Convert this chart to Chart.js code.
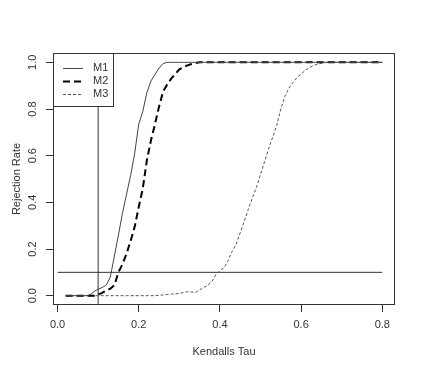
<!DOCTYPE html>
<html>
<head>
<meta charset="utf-8">
<script src="https://cdn.jsdelivr.net/npm/chart.js@4"></script>
<style>
  html, body { margin: 0; padding: 0; background: #fff; }
  #wrap { width: 423px; height: 372px; position: relative; }
</style>
</head>
<body>
<div id="wrap"><canvas id="chart"></canvas></div>
<script>
// Rejection rate vs Kendall's tau, three methods

const tau = [
  0.02, 0.03, 0.04, 0.05, 0.06, 0.07, 0.08, 0.09, 0.10, 0.11,
  0.12, 0.13, 0.14, 0.15, 0.16, 0.17, 0.18, 0.19, 0.20, 0.21,
  0.22, 0.23, 0.24, 0.25, 0.26, 0.27, 0.28, 0.29, 0.30, 0.31,
  0.32, 0.33, 0.34, 0.35, 0.36, 0.37, 0.38, 0.39, 0.40, 0.41,
  0.42, 0.43, 0.44, 0.45, 0.46, 0.47, 0.48, 0.49, 0.50, 0.51,
  0.52, 0.53, 0.54, 0.55, 0.56, 0.57, 0.58, 0.59, 0.60, 0.61,
  0.62, 0.63, 0.64, 0.65, 0.66, 0.67, 0.68, 0.69, 0.70, 0.71,
  0.72, 0.73, 0.74, 0.75, 0.76, 0.77, 0.78, 0.79, 0.80
];

const m1 = [
  0, 0, 0, 0, 0, 0, 0.003, 0.018, 0.028, 0.035,
  0.045, 0.08, 0.17, 0.26, 0.355, 0.435, 0.515, 0.61, 0.735, 0.79,
  0.87, 0.92, 0.948, 0.975, 0.995, 1, 1, 1, 1, 1,
  1, 1, 1, 1, 1, 1, 1, 1, 1, 1,
  1, 1, 1, 1, 1, 1, 1, 1, 1, 1,
  1, 1, 1, 1, 1, 1, 1, 1, 1, 1,
  1, 1, 1, 1, 1, 1, 1, 1, 1, 1,
  1, 1, 1, 1, 1, 1, 1, 1, 1
];

const m2 = [
  0, 0, 0, 0, 0, 0, 0, 0, 0.005, 0.012,
  0.022, 0.03, 0.045, 0.1, 0.135, 0.18, 0.235, 0.295, 0.38, 0.46,
  0.58, 0.665, 0.735, 0.81, 0.875, 0.905, 0.93, 0.95, 0.97, 0.98,
  0.987, 0.993, 0.997, 1, 1, 1, 1, 1, 1, 1,
  1, 1, 1, 1, 1, 1, 1, 1, 1, 1,
  1, 1, 1, 1, 1, 1, 1, 1, 1, 1,
  1, 1, 1, 1, 1, 1, 1, 1, 1, 1,
  1, 1, 1, 1, 1, 1, 1, 1, 1
];

const m3 = [
  0, 0, 0, 0, 0, 0, 0, 0, 0, 0,
  0, 0, 0, 0, 0, 0, 0, 0, 0, 0,
  0, 0, 0, 0.002, 0.003, 0.005, 0.007, 0.008, 0.01, 0.013,
  0.017, 0.016, 0.014, 0.025, 0.035, 0.045, 0.06, 0.09, 0.108, 0.12,
  0.15, 0.19, 0.22, 0.27, 0.32, 0.37, 0.42, 0.465, 0.52, 0.575,
  0.63, 0.68, 0.73, 0.8, 0.855, 0.89, 0.915, 0.935, 0.95, 0.965,
  0.977, 0.986, 0.992, 0.996, 0.999, 1, 1, 1, 1, 1,
  1, 1, 1, 1, 1, 1, 1, 1, 1
];

const seriesNames = ['M1', 'M2', 'M3'];
const xTicks = [0, 0.2, 0.4, 0.6, 0.8];
const xTickLabels = ['0.0', '0.2', '0.4', '0.6', '0.8'];
const yTicks = [0, 0.2, 0.4, 0.6, 0.8, 1.0];
const yTickLabels = ['0.0', '0.2', '0.4', '0.6', '0.8', '1.0'];
const refLevel = 0.1;   // abline h / v

const FONT = '11px "Liberation Sans", Arial, sans-serif';
const INK = '#333';

function pts(ys) {
  return tau.map((t, i) => ({ x: t, y: ys[i] }));
}

const styles = [
  { borderColor: '#444', borderWidth: 1, borderDash: [] },
  { borderColor: '#000', borderWidth: 2, borderDash: [7, 4] },
  { borderColor: '#555', borderWidth: 1, borderDash: [3, 2] }
];

// R-like decorations: box, tick labels, titles, legend
const rPlot = {
  id: 'rPlot',
  afterDatasetsDraw(chart) {
    const { ctx, chartArea: a, scales: { x, y } } = chart;
    ctx.save();
    ctx.strokeStyle = INK;
    ctx.lineWidth = 1;
    ctx.strokeRect(a.left + 0.5, a.top + 0.5, a.right - a.left - 1, a.bottom - a.top - 1);

    ctx.fillStyle = INK;
    ctx.font = FONT;
    ctx.textAlign = 'center';
    ctx.textBaseline = 'middle';
    xTicks.forEach((v, i) => ctx.fillText(xTickLabels[i], x.getPixelForValue(v), 325));
    yTicks.forEach((v, i) => {
      ctx.save();
      ctx.translate(33, y.getPixelForValue(v));
      ctx.rotate(-Math.PI / 2);
      ctx.fillText(yTickLabels[i], 0, 0);
      ctx.restore();
    });

    ctx.fillText('Kendalls Tau', (a.left + a.right) / 2, 352);
    ctx.save();
    ctx.translate(17, (a.top + a.bottom) / 2);
    ctx.rotate(-Math.PI / 2);
    ctx.fillText('Rejection Rate', 0, 0);
    ctx.restore();

    // legend
    const lx = a.left, ly = a.top, lw = 60, lh = 53;
    ctx.fillStyle = '#fff';
    ctx.fillRect(lx, ly, lw, lh);
    ctx.strokeStyle = INK;
    ctx.strokeRect(lx + 0.5, ly + 0.5, lw, lh);
    seriesNames.forEach((name, i) => {
      const rowY = ly + 15 + i * 13;
      const s = styles[i];
      ctx.strokeStyle = s.borderColor;
      ctx.lineWidth = s.borderWidth;
      ctx.setLineDash(s.borderDash);
      ctx.beginPath();
      ctx.moveTo(lx + 10, rowY + 0.5);
      ctx.lineTo(lx + 30, rowY + 0.5);
      ctx.stroke();
      ctx.setLineDash([]);
      ctx.fillStyle = INK;
      ctx.textAlign = 'left';
      ctx.fillText(name, lx + 40, rowY);
    });
    ctx.restore();
  }
};

new Chart(document.getElementById('chart'), {
  type: 'line',
  data: {
    datasets: [
      ...[m1, m2, m3].map((ys, i) => Object.assign({
        label: seriesNames[i],
        data: pts(ys),
        pointRadius: 0,
        tension: 0,
        fill: false
      }, styles[i])),
      {
        label: 'h',
        data: [{ x: 0, y: refLevel }, { x: 0.8, y: refLevel }],
        borderColor: INK, borderWidth: 1, pointRadius: 0
      },
      {
        label: 'v',
        data: [{ x: refLevel, y: -0.05 }, { x: refLevel, y: 1.05 }],
        borderColor: INK, borderWidth: 1, pointRadius: 0
      }
    ]
  },
  options: {
    responsive: true,
    maintainAspectRatio: false,
    animation: false,
    layout: { padding: { top: 53, right: 28, left: 0, bottom: 0 } },
    plugins: { legend: { display: false }, tooltip: { enabled: false } },
    scales: {
      x: {
        type: 'linear',
        min: -0.0112,
        max: 0.8312,
        afterBuildTicks: s => { s.ticks = xTicks.map(v => ({ value: v })); },
        afterFit: s => { s.height = 67; },
        ticks: { display: false },
        grid: { drawOnChartArea: false, drawTicks: true, tickLength: 7, color: INK },
        border: { display: false }
      },
      y: {
        type: 'linear',
        min: -0.04,
        max: 1.04,
        afterBuildTicks: s => { s.ticks = yTicks.map(v => ({ value: v })); },
        afterFit: s => { s.width = 53; },
        ticks: { display: false },
        grid: { drawOnChartArea: false, drawTicks: true, tickLength: 7, color: INK },
        border: { display: false }
      }
    }
  },
  plugins: [rPlot]
});
</script>
</body>
</html>
